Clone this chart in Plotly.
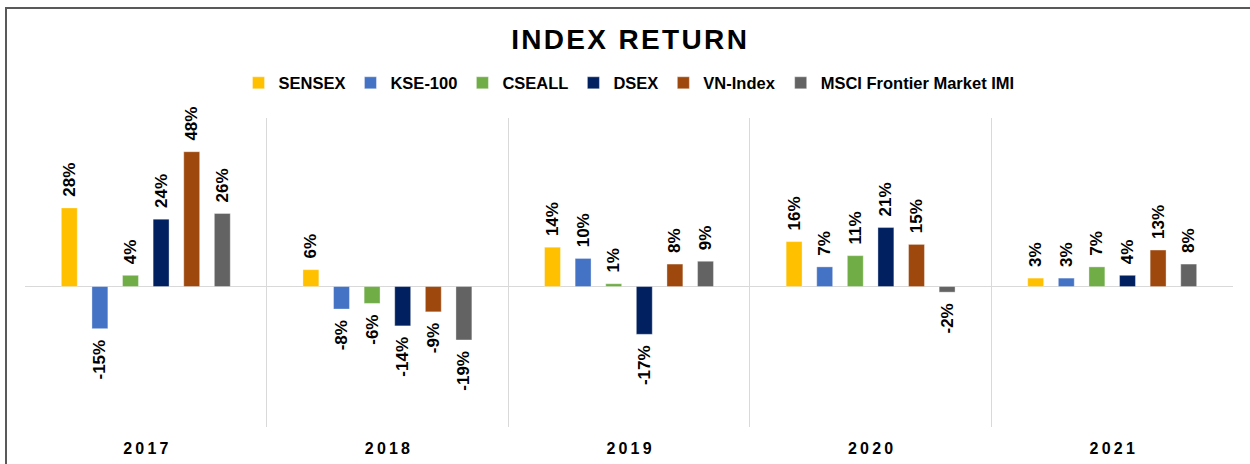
import plotly.graph_objects as go

years = ["2017", "2018", "2019", "2020", "2021"]
series_names = ["SENSEX", "KSE-100", "CSEALL", "DSEX", "VN-Index", "MSCI Frontier Market IMI"]
sensex = [28, 6, 14, 16, 3]
kse100 = [-15, -8, 10, 7, 3]
cseall = [4, -6, 1, 11, 7]
dsex = [24, -14, -17, 21, 4]
vnindex = [48, -9, 8, 15, 13]
msci = [26, -19, 9, -2, 8]
colors = ["#FFC000", "#4472C4", "#70AD47", "#002060", "#9E480E", "#636363"]

all_values = [sensex, kse100, cseall, dsex, vnindex, msci]

FONT = "Arial, Liberation Sans, sans-serif"
HS = "\u200a"  # hair space for letter spacing


def spaced(s, sep=HS):
    return sep.join(list(s))


def label(v):
    t = f"{v}%"
    return ("\u00a0\u2009" + t) if v >= 0 else (t + "\u2009\u00a0")


fig = go.Figure()
for name, vals, col in zip(series_names, all_values, colors):
    fig.add_trace(go.Bar(
        name=name,
        x=years,
        y=[v / 100 for v in vals],
        marker=dict(color=col, line=dict(width=0.6, color="rgba(255,255,255,0.6)")),
        text=[label(v) for v in vals],
        textposition="outside",
        textangle=-90,
        textfont=dict(family=FONT, size=17, color="#000000", weight="bold"),
        constraintext="none",
        cliponaxis=False,
        hoverinfo="skip",
    ))

fig.update_layout(
    width=1250, height=464,
    paper_bgcolor="white", plot_bgcolor="white",
    margin=dict(l=25, r=17, t=118, b=37, autoexpand=False),
    barmode="group",
    bargap=0.24,
    bargroupgap=0.48,
    title=dict(
        text="<b>" + spaced("INDEX RETURN") + "</b>",
        font=dict(family=FONT, size=28, color="#000000"),
        x=0.5, xref="paper", xanchor="center",
        y=1 - 39 / 464, yref="container", yanchor="middle",
    ),
    legend=dict(
        orientation="h",
        x=0.5, xanchor="center",
        y=1.113, yanchor="middle",
        font=dict(family=FONT, size=16.5, color="#000000", weight="bold"),
        itemwidth=30,
        bgcolor="rgba(0,0,0,0)",
    ),
    showlegend=True,
)

fig.update_xaxes(
    type="category",
    tickson="boundaries",
    showgrid=True, gridcolor="#D9D9D9", gridwidth=1,
    showline=False, ticks="",
    tickvals=years,
    ticktext=["<b>" + spaced(y, "\u2009") + "</b>" for y in years],
    tickfont=dict(family=FONT, size=16, color="#000000"),
    ticklabelstandoff=10,
    automargin=False,
)
fig.update_yaxes(
    range=[-0.5, 0.6],
    showgrid=False, showticklabels=False, ticks="",
    zeroline=True, zerolinecolor="#D9D9D9", zerolinewidth=1,
    showline=False,
    automargin=False,
)

# outer chart border (extends beyond the cropped picture on right/bottom)
fig.add_shape(type="rect", xref="paper", yref="paper",
              x0=(6 - 25) / 1208, x1=1.2, y0=-0.5, y1=(427 - 8) / 309,
              line=dict(color="#595959", width=2), fillcolor="rgba(0,0,0,0)",
              layer="below")

fig.write_html(
    "out.html",
    config={"displayModeBar": False},
    post_script="document.body.style.margin='0';document.body.style.overflow='hidden';",
)
